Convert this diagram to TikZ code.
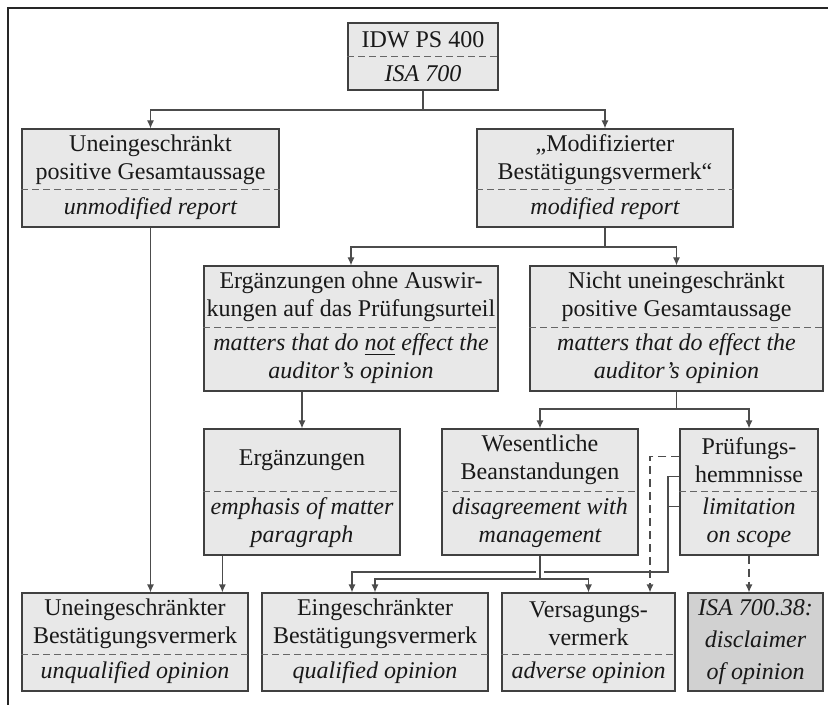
\documentclass[tikz,border=0pt]{standalone}
\usepackage{fontspec}
\setmainfont{Liberation Serif}
\usetikzlibrary{arrows.meta,fit}

\tikzset{
  box/.style={draw=black!75, fill=black!9, line width=0.6pt, inner sep=0pt},
  darkbox/.style={box, fill=black!18},
  divider/.style={draw=black!60, line width=0.5pt, dash pattern=on 3.5pt off 2pt},
  txt/.style={align=center, inner sep=0pt, text=black!90, font=\fontsize{12}{14}\selectfont},
  itxt/.style={txt, font=\fontsize{12}{14}\selectfont\itshape},
  conn/.style={draw=black!70, line width=0.6pt},
  arr/.style={conn, -{Latex[length=4pt,width=3.5pt]}},
  dasharr/.style={arr, dash pattern=on 4pt off 2.5pt},
  frame/.style={draw=black!85, line width=0.9pt}
}

\begin{document}
\begin{tikzpicture}[x=0.5pt,y=-0.5pt]
\useasboundingbox (0,0) rectangle (828,705);

% Frame (cut at right and bottom)
\draw[frame] (828,8) -- (8,8) -- (8,705);

% Top box
\node[box, fit={(348,23) (498,90)}] (idw) {};
\draw[divider] (idw.west |- 0,57) -- (idw.east |- 0,57);
\node[txt] (idw-de) at (423,40) {IDW PS 400};
\node[itxt] (idw-en) at (423,73.5) {ISA 700};

% Second row
\node[box, fit={(22,129) (279,227)}] (unmod) {};
\draw[divider] (unmod.west |- 0,190) -- (unmod.east |- 0,190);
\node[txt] (unmod-de) at (150.5,159.5) {Uneingeschränkt\\positive Gesamtaussage};
\node[itxt] (unmod-en) at (150.5,208.5) {unmodified report};

\node[box, fit={(477,129) (733,227)}] (mod) {};
\draw[divider] (mod.west |- 0,190) -- (mod.east |- 0,190);
\node[txt] (mod-de) at (605,159.5) {„Modifizierter\\Bestätigungsvermerk“};
\node[itxt] (mod-en) at (605,208.5) {modified report};

% Third row
\node[box, fit={(204,266) (498,391)}] (ergo) {};
\draw[divider] (ergo.west |- 0,327) -- (ergo.east |- 0,327);
\node[txt] (ergo-de) at (351,296.5) {Ergänzungen ohne Auswir-\\kungen auf das Prüfungsurteil};
\node[itxt] (ergo-en) at (351,359) {matters that do \underline{not} effect the\\auditor’s opinion};

\node[box, fit={(530,266) (823,391)}] (nicht) {};
\draw[divider] (nicht.west |- 0,327) -- (nicht.east |- 0,327);
\node[txt] (nicht-de) at (676.5,296.5) {Nicht uneingeschränkt\\positive Gesamtaussage};
\node[itxt] (nicht-en) at (676.5,359) {matters that do effect the\\auditor’s opinion};

% Fourth row
\node[box, fit={(204,429) (400,555)}] (erg) {};
\draw[divider] (erg.west |- 0,491) -- (erg.east |- 0,491);
\node[txt] (erg-de) at (302,460) {Ergänzungen};
\node[itxt] (erg-en) at (302,523) {emphasis of matter\\paragraph};

\node[box, fit={(442,429) (638,555)}] (wes) {};
\draw[divider] (wes.west |- 0,491) -- (wes.east |- 0,491);
\node[txt] (wes-de) at (540,460) {Wesentliche\\Beanstandungen};
\node[itxt] (wes-en) at (540,523) {disagreement with\\management};

\node[box, fit={(680,429) (818,555)}] (pruef) {};
\draw[divider] (pruef.west |- 0,491) -- (pruef.east |- 0,491);
\node[txt] (pruef-de) at (749,460) {Prüfungs-\\hemmnisse};
\node[itxt] (pruef-en) at (749,523) {limitation\\on scope};

% Bottom row
\node[box, fit={(22,593) (248,691)}] (uneq) {};
\draw[divider] (uneq.west |- 0,654) -- (uneq.east |- 0,654);
\node[txt] (uneq-de) at (135,623.5) {Uneingeschränkter\\Bestätigungsvermerk};
\node[itxt] (uneq-en) at (135,672.5) {unqualified opinion};

\node[box, fit={(262,593) (488,691)}] (eing) {};
\draw[divider] (eing.west |- 0,654) -- (eing.east |- 0,654);
\node[txt] (eing-de) at (375,623.5) {Eingeschränkter\\Bestätigungsvermerk};
\node[itxt] (eing-en) at (375,672.5) {qualified opinion};

\node[box, fit={(502,593) (675,691)}] (vers) {};
\draw[divider] (vers.west |- 0,654) -- (vers.east |- 0,654);
\node[txt] (vers-de) at (588.5,623.5) {Versagungs-\\vermerk};
\node[itxt] (vers-en) at (588.5,672.5) {adverse opinion};

\node[darkbox, fit={(688,593) (823,691)}] (isa) {};
\node[itxt, font=\fontsize{12}{16}\selectfont\itshape] (isa-en) at (755.5,642) {ISA 700.38:\\disclaimer\\of opinion};

% Connectors
\coordinate (j1) at (423,110);
\draw[conn] (idw) -- (j1);
\draw[arr] (j1) -| (unmod);
\draw[arr] (j1) -| (mod);

\coordinate (j2) at (605,247);
\draw[conn] (mod) -- (j2);
\draw[arr] (j2) -| (ergo);
\draw[arr] (j2) -| (nicht);

\draw[arr] (erg |- ergo.south) -- (erg);

\coordinate (j3) at (676.5,409);
\draw[conn] (nicht) -- (j3);
\draw[arr] (j3) -| (wes);
\draw[arr] (j3) -| (pruef);

\draw[arr] (unmod) -- (unmod |- uneq.north);
\draw[arr] ([xshift=9.5pt]erg.south west) -- ([xshift=9.5pt]erg.south west |- uneq.north);

% Pruefungshemmnisse -> eingeschraenkt / versagung / disclaimer
\draw[arr] ([yshift=-24pt]pruef.north west) -| (668,572) -| ([xshift=-11.5pt]eing.north);
\draw[conn] ([yshift=-39pt]pruef.north west) -- ++(-12,0);
\draw[dasharr] ([yshift=-14pt]pruef.north west) -| ([xshift=30.75pt]vers.north);
\draw[dasharr] (pruef) -- (pruef |- isa.north);

% Wesentliche Beanstandungen (gap where it crosses)
\coordinate (j4) at (540,579);
\draw[white, line width=4pt] ([yshift=-3pt]wes.south) -- ([yshift=-10pt]wes.south);
\draw[conn] (wes) -- (j4);
\draw[arr] (j4) -| (eing);
\draw[arr] (j4) -| (vers);

\end{tikzpicture}
\end{document}
